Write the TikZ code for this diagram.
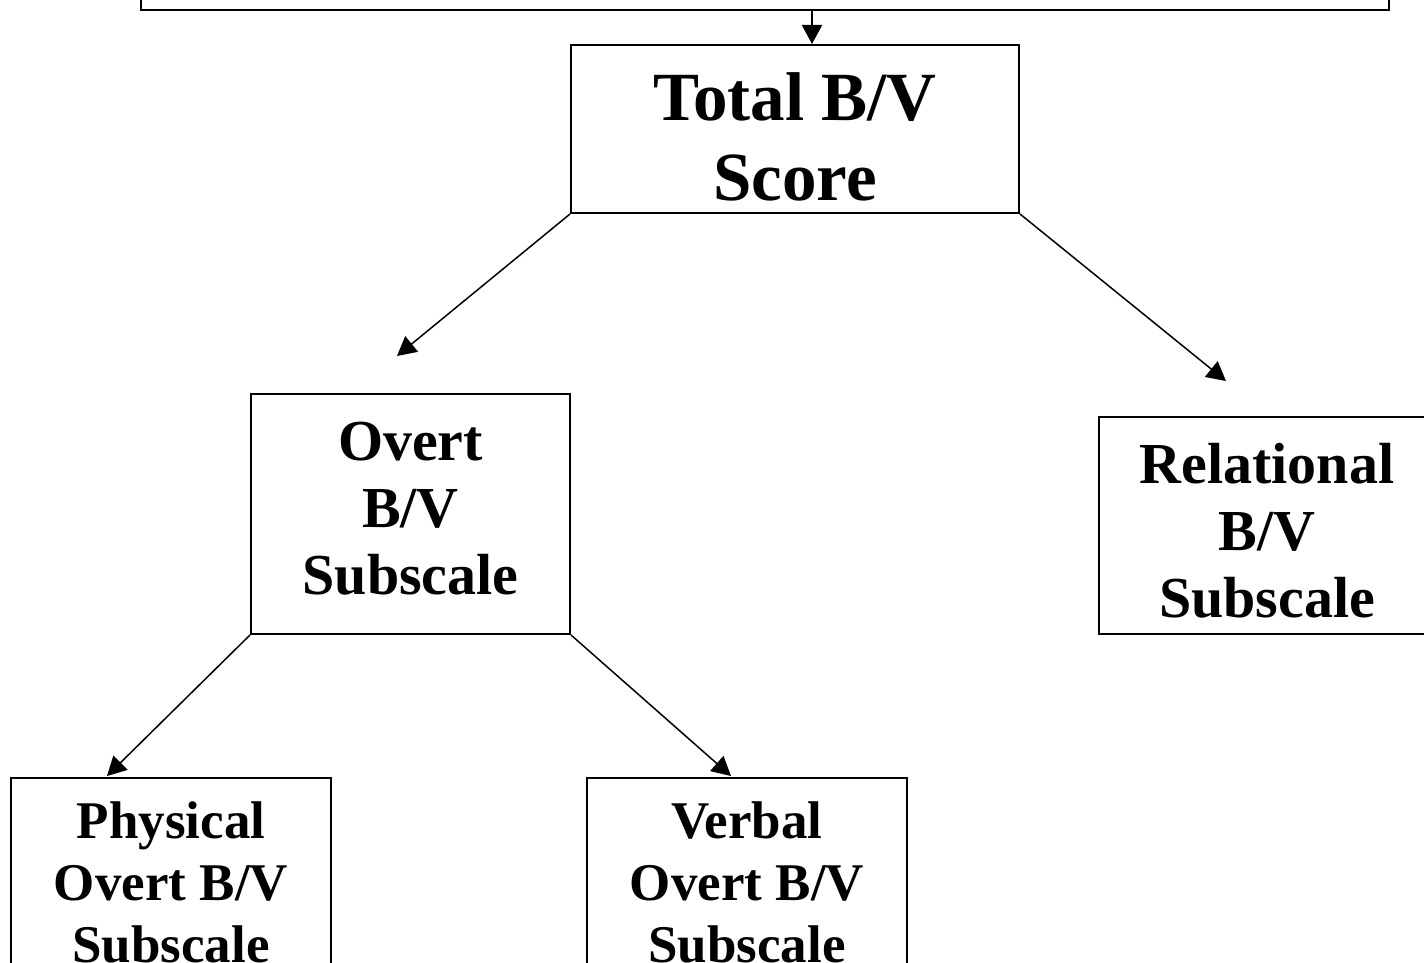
\documentclass[tikz,border=0pt]{standalone}
\usepackage{fontspec}
\setmainfont{Liberation Serif}
\usetikzlibrary{arrows.meta}
\tikzset{
  box/.style={draw=black, line width=2pt, rectangle, inner sep=0pt},
  lbl/.style={inner sep=0pt, align=center},
  big/.style={lbl, font=\fontsize{69}{80}\selectfont\bfseries},
  mid/.style={lbl, font=\fontsize{58}{67}\selectfont\bfseries},
  small/.style={lbl, font=\fontsize{53}{62}\selectfont\bfseries},
  conn/.style={line width=1.5pt, -{Triangle[length=19pt,width=20pt]}},
  vconn/.style={line width=2pt, -{Triangle[length=19pt,width=20pt]}}
}
\begin{document}
\begin{tikzpicture}[x=1pt,y=1pt]
\useasboundingbox (0,0) rectangle (1424,-963);
\node[box, minimum width=1248pt, minimum height=120pt] (top) at (765,50) {};
\node[box, minimum width=448pt, minimum height=168pt] (total) at (795,-129) {};
\node[big, yshift=-8pt] (totalt) at (total.center) {Total B/V\\Score};
\node[box, minimum width=319pt, minimum height=240pt] (overt) at (410.5,-514) {};
\node[mid, yshift=5pt] (overtt) at (overt.center) {Overt\\B/V\\Subscale};
\node[box, minimum width=336pt, minimum height=217pt] (rel) at (1267,-525.5) {};
\node[mid, yshift=-5pt] (relt) at (rel.center) {Relational\\B/V\\Subscale};
\node[box, minimum width=320pt, minimum height=208pt] (phys) at (171,-882) {};
\node[small] (physt) at (phys.center) {Physical\\Overt B/V\\Subscale};
\node[box, minimum width=320pt, minimum height=208pt] (verb) at (747,-882) {};
\node[small] (verbt) at (verb.center) {Verbal\\Overt B/V\\Subscale};
\coordinate (vx) at (812,0);
\coordinate (e1) at (397,-356);
\coordinate (e2) at (1226,-381);
\coordinate (e3) at (107,-776);
\coordinate (e4) at (731,-776);
\draw[vconn] (top.south -| vx) -- (total.north -| vx);
\draw[conn] (total.south west) -- (e1);
\draw[conn] (total.south east) -- (e2);
\draw[conn] (overt.south west) -- (e3);
\draw[conn] (overt.south east) -- (e4);
\end{tikzpicture}
\end{document}
